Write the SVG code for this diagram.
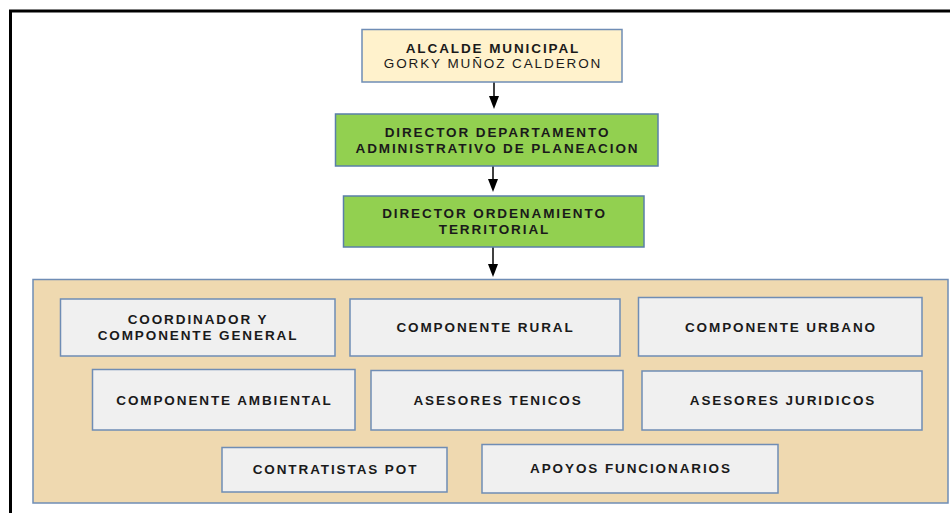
<svg xmlns="http://www.w3.org/2000/svg" width="950" height="513" viewBox="0 0 950 513">
<style>
.t{font-family:"Liberation Sans",Arial,sans-serif;font-size:13.5px;font-weight:bold;letter-spacing:1.9px;fill:#1a1a1a;text-anchor:middle}
.r{font-weight:normal}
.box{fill:#f0f0f0;stroke:#6f8db5;stroke-width:1.5}
.green{fill:#92d050;stroke:#5a7fa8;stroke-width:1.5}
.cream{fill:#fff2cc;stroke:#6f8db5;stroke-width:1.5}
.conn{stroke:#000;stroke-width:1.5;fill:none}
</style>
<rect width="950" height="513" fill="#fff"/>
<path d="M10.5,513 L10.5,11 L950,11" fill="none" stroke="#000" stroke-width="3"/>
<g id="panel">
<rect x="33" y="279.5" width="915" height="223.5" fill="#efd9b0" stroke="#6f8db5" stroke-width="1.5"/>
</g>
<g id="connectors">
<line class="conn" x1="494" y1="82" x2="494" y2="96"/>
<path d="M489,96 L499,96 L494,109 Z" fill="#000"/>
<line class="conn" x1="493" y1="166" x2="493" y2="179"/>
<path d="M488,179 L498,179 L493,192 Z" fill="#000"/>
<line class="conn" x1="493" y1="247" x2="493" y2="264"/>
<path d="M488,264 L498,264 L493,277 Z" fill="#000"/>
</g>
<g id="alcalde">
<rect class="cream" x="362" y="29.5" width="260" height="52.5"/>
<text class="t" x="493" y="53">ALCALDE MUNICIPAL</text>
<text class="t r" x="493" y="68">GORKY MUÑOZ CALDERON</text>
</g>
<g id="director-planeacion">
<rect class="green" x="335.5" y="114" width="322.5" height="52"/>
<text class="t" x="497.5" y="137">DIRECTOR DEPARTAMENTO</text>
<text class="t" x="497.5" y="153">ADMINISTRATIVO DE PLANEACION</text>
</g>
<g id="director-ordenamiento">
<rect class="green" x="343.5" y="196" width="300.5" height="51"/>
<text class="t" x="494.5" y="218">DIRECTOR ORDENAMIENTO</text>
<text class="t" x="494.5" y="234">TERRITORIAL</text>
</g>
<g id="coordinador">
<rect class="box" x="60.5" y="299" width="274.5" height="57"/>
<text class="t" x="198" y="324">COORDINADOR Y</text>
<text class="t" x="198" y="340">COMPONENTE GENERAL</text>
</g>
<g id="rural">
<rect class="box" x="350" y="299" width="270" height="57"/>
<text class="t" x="485.5" y="332">COMPONENTE RURAL</text>
</g>
<g id="urbano">
<rect class="box" x="638.5" y="297.5" width="283.5" height="58.5"/>
<text class="t" x="781" y="332">COMPONENTE URBANO</text>
</g>
<g id="ambiental">
<rect class="box" x="92.5" y="369.5" width="262.5" height="60.5"/>
<text class="t" x="224.5" y="405">COMPONENTE AMBIENTAL</text>
</g>
<g id="tenicos">
<rect class="box" x="371" y="370.5" width="252" height="59.5"/>
<text class="t" x="498" y="405">ASESORES TENICOS</text>
</g>
<g id="juridicos">
<rect class="box" x="642" y="371" width="280" height="59"/>
<text class="t" x="783" y="405">ASESORES JURIDICOS</text>
</g>
<g id="contratistas">
<rect class="box" x="222" y="447.5" width="225" height="44.5"/>
<text class="t" x="335.5" y="474">CONTRATISTAS POT</text>
</g>
<g id="apoyos">
<rect class="box" x="482" y="444.5" width="296" height="48.5"/>
<text class="t" x="631" y="473">APOYOS FUNCIONARIOS</text>
</g>
</svg>
